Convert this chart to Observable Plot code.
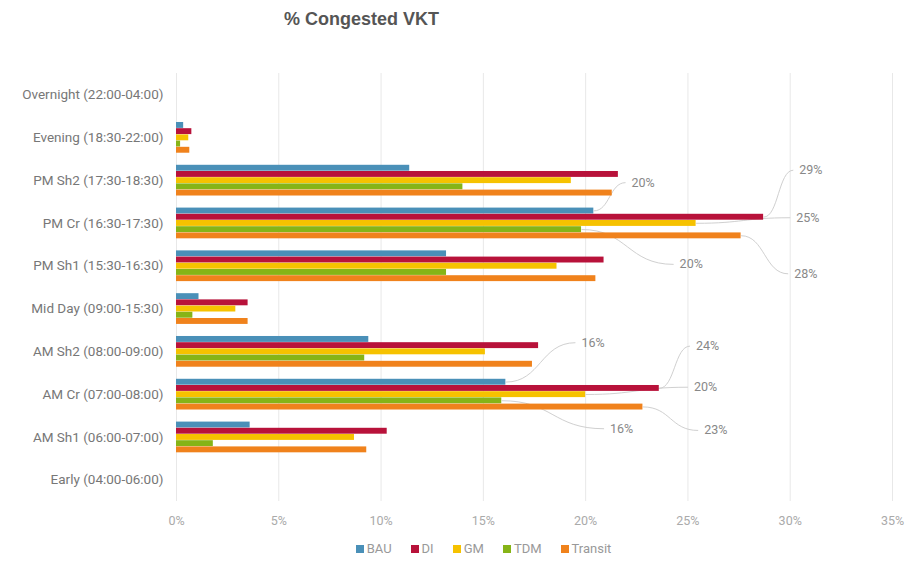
<!DOCTYPE html>
<html>
<head>
<meta charset="utf-8">
<script src="https://cdn.jsdelivr.net/npm/d3@7"></script>
<script src="https://cdn.jsdelivr.net/npm/@observablehq/plot@0.6"></script>
<style>
  body { margin: 0; background: #fff; font-family: Roboto, "Liberation Sans", sans-serif; }
  #wrap { width: 921px; height: 561px; position: relative; }
  #title { height: 45px; box-sizing: border-box; padding-left: 284px; padding-top: 9px; font: bold 18px "Liberation Sans", Arial, sans-serif; color: #555; }
  #legend { display: flex; justify-content: center; gap: 19px; font: 13px Roboto, sans-serif; color: #999; padding-left: 46px; margin-top: 10px; }
  #legend span.sw { display: inline-block; width: 8px; height: 8px; margin-right: 3px; vertical-align: 0px; }
</style>
</head>
<body>
<div id="wrap">
  <div id="title">% Congested VKT</div>
  <div id="chart"></div>
  <div id="legend"></div>
</div>
<script>
const categories = [
  "Overnight (22:00-04:00)",
  "Evening (18:30-22:00)",
  "PM Sh2 (17:30-18:30)",
  "PM Cr (16:30-17:30)",
  "PM Sh1 (15:30-16:30)",
  "Mid Day (09:00-15:30)",
  "AM Sh2 (08:00-09:00)",
  "AM Cr (07:00-08:00)",
  "AM Sh1 (06:00-07:00)",
  "Early (04:00-06:00)"
];
const series = ["BAU", "DI", "GM", "TDM", "Transit"];
const colors = ["#4a90b8", "#b8123a", "#f6c200", "#86b417", "#f0821c"];

// values in %, same order as categories
const BAU     = [0, 0.35, 11.4, 20.4, 13.2, 1.1, 9.4, 16.1, 3.6, 0];
const DI      = [0, 0.75, 21.6, 28.7, 20.9, 3.5, 17.7, 23.6, 10.3, 0];
const GM      = [0, 0.6, 19.3, 25.4, 18.6, 2.9, 15.1, 20.0, 8.7, 0];
const TDM     = [0, 0.2, 14.0, 19.8, 13.2, 0.8, 9.2, 15.9, 1.8, 0];
const Transit = [0, 0.65, 21.3, 27.6, 20.5, 3.5, 17.4, 22.8, 9.3, 0];
const seriesValues = [BAU, DI, GM, TDM, Transit];

const xTicks = [0, 5, 10, 15, 20, 25, 30, 35];

// data labels (category, series) and where each callout label sits (x in %, y in category units)
const labelCats   = ["PM Cr (16:30-17:30)", "PM Cr (16:30-17:30)", "PM Cr (16:30-17:30)", "PM Cr (16:30-17:30)", "PM Cr (16:30-17:30)",
                     "AM Cr (07:00-08:00)", "AM Cr (07:00-08:00)", "AM Cr (07:00-08:00)", "AM Cr (07:00-08:00)", "AM Cr (07:00-08:00)"];
const labelSeries = ["BAU", "DI", "GM", "TDM", "Transit", "BAU", "DI", "GM", "TDM", "Transit"];
const labelX      = [21.95, 30.15, 30.0, 24.3, 29.9, 19.5, 25.1, 25.0, 20.9, 25.5];
const labelY      = [2.05, 1.76, 2.87, 3.96, 4.18, 5.79, 5.87, 6.83, 7.8, 7.84];

const rowH = 0.145;
const rows = [];
categories.forEach((c, i) => {
  series.forEach((s, j) => {
    const y1 = i + (j - 2.5) * rowH;
    rows.push({category: c, series: s, value: seriesValues[j][i], y1, y2: y1 + rowH, yc: y1 + rowH / 2});
  });
});

const labels = labelCats.map((c, k) => {
  const r = rows.find(d => d.category === c && d.series === labelSeries[k]);
  return {x1: r.value, y1: r.yc, x2: labelX[k], y2: labelY[k], text: Math.round(r.value) + "%"};
});

const chart = Plot.plot({
  width: 921,
  height: 486,
  marginLeft: 176,
  marginRight: 29,
  marginTop: 28,
  marginBottom: 30,
  style: {fontFamily: "Roboto, sans-serif", fontSize: "12px", color: "#777", background: "#fff"},
  x: {domain: [0, 35], label: null},
  y: {domain: [-0.5, 9.5], reverse: true, label: null},
  color: {domain: series, range: colors},
  marks: [
    Plot.gridX(xTicks, {stroke: "#e8e8e8", strokeOpacity: 1}),
    Plot.link(labels, {x1: "x1", y1: "y1", x2: "x2", y2: "y2", stroke: "#d0d0d0", strokeWidth: 1, curve: "bump-x"}),
    Plot.rectX(rows, {x1: 0, x2: "value", y1: "y1", y2: "y2", fill: "series", insetTop: 0.3, insetBottom: 0}),
    Plot.text(labels, {x: "x2", y: "y2", text: "text", textAnchor: "start", dx: 6, fill: "#888", fontSize: 12.5}),
    Plot.axisY(d3.range(categories.length), {tickFormat: i => categories[i], tickSize: 0, tickPadding: 13, fill: "#777", fontSize: 13.5, label: null}),
    Plot.axisX(xTicks, {tickFormat: d => d + "%", tickSize: 0, tickPadding: 15, fill: "#aaa", fontSize: 12.5, label: null})
  ]
});
document.getElementById("chart").appendChild(chart);

const legend = document.getElementById("legend");
series.forEach((s, j) => {
  const item = document.createElement("span");
  item.innerHTML = `<span class="sw" style="background:${colors[j]}"></span>${s}`;
  legend.appendChild(item);
});
</script>
</body>
</html>
